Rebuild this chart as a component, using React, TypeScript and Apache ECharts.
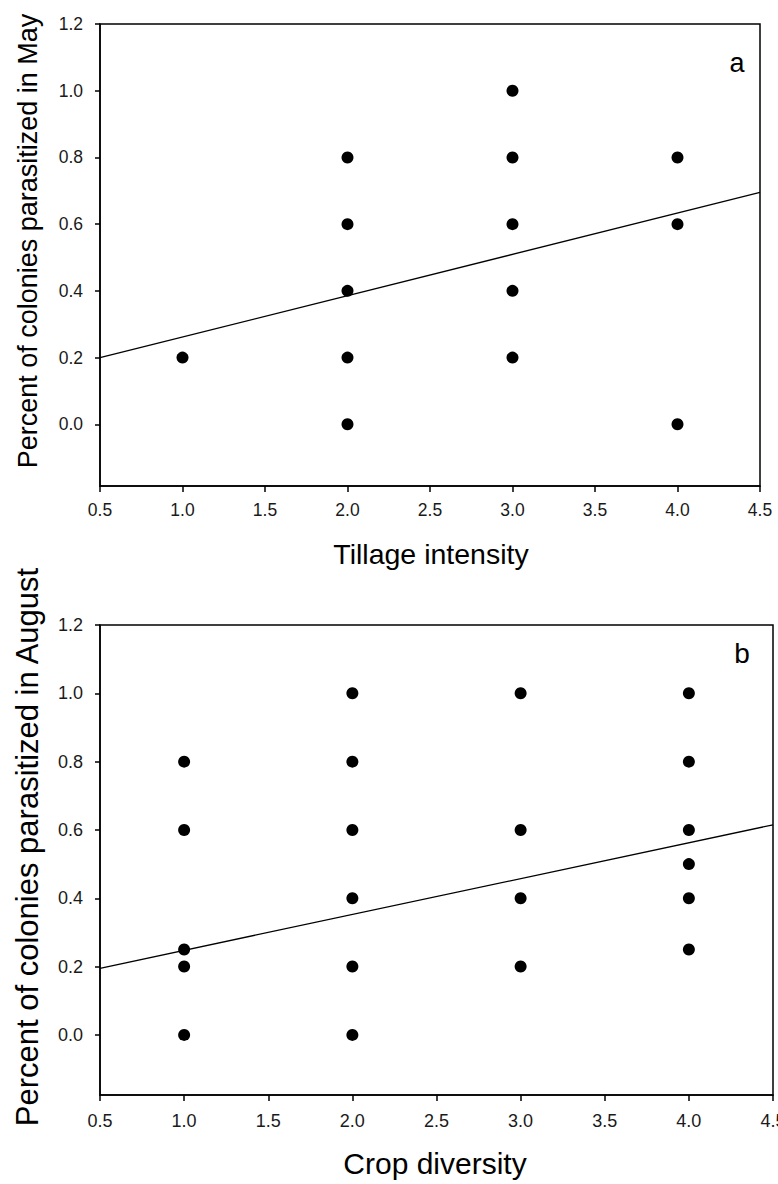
import React, { useEffect, useRef } from "react";
import * as echarts from "echarts";

const yTicks = [0, 0.2, 0.4, 0.6, 0.8, 1.0, 1.2];

const mayPoints: [number, number][] = [
  [1, 0.2],
  [2, 0.8], [2, 0.6], [2, 0.4], [2, 0.2], [2, 0.0],
  [3, 1.0], [3, 0.8], [3, 0.6], [3, 0.4], [3, 0.2],
  [4, 0.8], [4, 0.6], [4, 0.0],
];
const mayFit: [number, number][] = [[0.5, 0.2], [4.5, 0.695]];

const augPoints: [number, number][] = [
  [1, 0.8], [1, 0.6], [1, 0.25], [1, 0.2], [1, 0.0],
  [2, 1.0], [2, 0.8], [2, 0.6], [2, 0.4], [2, 0.2], [2, 0.0],
  [3, 1.0], [3, 0.6], [3, 0.4], [3, 0.2],
  [4, 1.0], [4, 0.8], [4, 0.6], [4, 0.5], [4, 0.4], [4, 0.25],
];
const augFit: [number, number][] = [[0.5, 0.195], [4.5, 0.615]];

const FONT = "'Liberation Sans', Arial, sans-serif";

export default function App() {
  const ref = useRef<HTMLDivElement>(null);
  useEffect(() => {
    if (!ref.current) return;
    const chart = echarts.init(ref.current, null, { renderer: "svg" });
    const xAxisBase = (gridIndex: number, margin: number, fontSize: number) => ({
      type: "value" as const,
      gridIndex,
      min: 0.5,
      max: 4.5,
      interval: 0.5,
      splitLine: { show: false },
      axisLine: { show: true, onZero: false, lineStyle: { color: "#000", width: 1.5 } },
      axisTick: { show: true, length: 6, lineStyle: { color: "#000", width: 1.5 } },
      axisLabel: {
        color: "#1a1a1a",
        fontSize,
        fontFamily: FONT,
        margin,
        formatter: (v: number) => v.toFixed(1),
      },
    });
    const yAxisBase = (gridIndex: number, min: number, fontSize: number) => ({
      type: "value" as const,
      gridIndex,
      min,
      max: 1.2,
      splitLine: { show: false },
      axisLine: { show: true, onZero: false, lineStyle: { color: "#000", width: 1.5 } },
      axisTick: { show: true, length: 5, customValues: yTicks, lineStyle: { color: "#000", width: 1.5 } },
      axisLabel: {
        color: "#1a1a1a",
        fontSize,
        fontFamily: FONT,
        margin: 17,
        customValues: yTicks,
        formatter: (v: number) => v.toFixed(1),
      },
    });
    const titleStyle = (text: string, size: number) => ({
      text,
      font: `${size}px ${FONT}`,
      fill: "#000",
      align: "center",
      verticalAlign: "middle",
    });
    chart.setOption({
      animation: false,
      backgroundColor: "#fff",
      grid: [
        {
          left: 100, top: 24, width: 660, height: 462,
          show: true, borderColor: "#000", borderWidth: 1.5,
          containLabel: false, outerBoundsMode: "none",
        },
        {
          left: 100, top: 625, width: 673, height: 470,
          show: true, borderColor: "#000", borderWidth: 1.5,
          containLabel: false, outerBoundsMode: "none",
        },
      ],
      xAxis: [xAxisBase(0, 15, 17.5), xAxisBase(1, 17, 18)],
      yAxis: [yAxisBase(0, -0.185, 17.5), yAxisBase(1, -0.176, 18)],
      series: [
        {
          type: "scatter",
          xAxisIndex: 0,
          yAxisIndex: 0,
          data: mayPoints,
          symbol: "circle",
          symbolSize: 12,
          itemStyle: { color: "#000", opacity: 1 },
        },
        {
          type: "line",
          xAxisIndex: 0,
          yAxisIndex: 0,
          data: mayFit,
          symbol: "none",
          lineStyle: { color: "#000", width: 1.3 },
        },
        {
          type: "scatter",
          xAxisIndex: 1,
          yAxisIndex: 1,
          data: augPoints,
          symbol: "circle",
          symbolSize: 12,
          itemStyle: { color: "#000", opacity: 1 },
        },
        {
          type: "line",
          xAxisIndex: 1,
          yAxisIndex: 1,
          data: augFit,
          symbol: "none",
          lineStyle: { color: "#000", width: 1.3 },
        },
      ],
      graphic: [
        {
          type: "text",
          x: 28,
          y: 241,
          rotation: Math.PI / 2,
          style: titleStyle("Percent of colonies parasitized in May", 27),
        },
        { type: "text", x: 431, y: 554, style: titleStyle("Tillage intensity", 28.5) },
        {
          type: "text",
          x: 737,
          y: 63,
          style: { text: "a", font: `27px ${FONT}`, fill: "#000", align: "center", verticalAlign: "middle" },
        },
        {
          type: "text",
          x: 27,
          y: 847,
          rotation: Math.PI / 2,
          style: titleStyle("Percent of colonies parasitized in August", 31),
        },
        { type: "text", x: 435, y: 1163, style: titleStyle("Crop diversity", 30) },
        {
          type: "text",
          x: 742,
          y: 653,
          style: { text: "b", font: `28px ${FONT}`, fill: "#000", align: "center", verticalAlign: "middle" },
        },
      ],
    });
    return () => chart.dispose();
  }, []);
  return (
    <div
      ref={ref}
      style={{ position: "absolute", left: 0, top: 0, width: 778, height: 1184 }}
    />
  );
}
